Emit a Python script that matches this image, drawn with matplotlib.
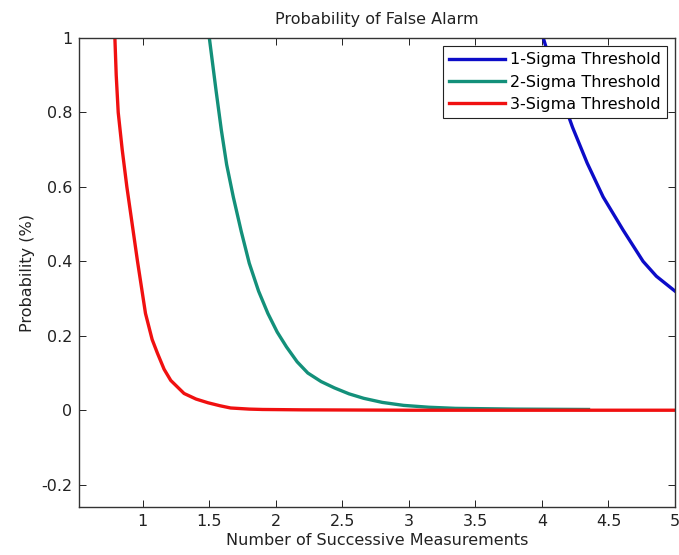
import matplotlib
matplotlib.use("Agg")
import matplotlib.pyplot as plt

# values
x_1sigma = [3.99, 4.01, 4.12, 4.23, 4.34, 4.46, 4.61, 4.76, 4.86, 5.0]
y_1sigma = [1.03, 1.0, 0.87, 0.76, 0.664, 0.573, 0.484, 0.40, 0.36, 0.32]

x_2sigma = [1.48, 1.50, 1.55, 1.59, 1.63, 1.68, 1.74, 1.80, 1.87, 1.94, 2.01,
            2.08, 2.16, 2.24, 2.34, 2.44, 2.55, 2.66, 2.80, 2.96, 3.15, 3.35,
            3.8, 4.35]
y_2sigma = [1.05, 1.0, 0.86, 0.753, 0.66, 0.573, 0.48, 0.395, 0.32, 0.26, 0.21,
            0.17, 0.13, 0.10, 0.077, 0.06, 0.044, 0.032, 0.021, 0.013, 0.008,
            0.005, 0.003, 0.002]

x_3sigma = [0.775, 0.79, 0.80, 0.815, 0.845, 0.88, 0.92, 0.96, 1.02, 1.07, 1.11,
            1.16, 1.21, 1.31, 1.40, 1.49, 1.58, 1.66, 1.80, 1.90, 2.20, 3.0,
            4.0, 5.0]
y_3sigma = [1.05, 1.0, 0.9, 0.8, 0.7, 0.6, 0.5, 0.4, 0.26, 0.19, 0.153,
            0.11, 0.08, 0.045, 0.03, 0.02, 0.012, 0.006, 0.003, 0.002, 0.001,
            0.0, 0.0, 0.0]

labels = ["1-Sigma Threshold", "2-Sigma Threshold", "3-Sigma Threshold"]
colors = ["#0c0cc8", "#13907a", "#f01010"]

x_ticks = [1, 1.5, 2, 2.5, 3, 3.5, 4, 4.5, 5]
x_ticklabels = ["1", "1.5", "2", "2.5", "3", "3.5", "4", "4.5", "5"]
y_ticks = [-0.2, 0, 0.2, 0.4, 0.6, 0.8, 1]
y_ticklabels = ["-0.2", "0", "0.2", "0.4", "0.6", "0.8", "1"]

plt.rcParams['font.family'] = ['DejaVu Sans']
plt.rcParams['font.size'] = 11.5

fig = plt.figure(figsize=(6.79, 5.55), dpi=100)
ax = fig.add_axes([0.1163, 0.0865, 0.8778, 0.845])

series = [(x_1sigma, y_1sigma), (x_2sigma, y_2sigma), (x_3sigma, y_3sigma)]
for (xs, ys), lab, col in zip(series, labels, colors):
    ax.plot(xs, ys, color=col, linewidth=2.4, label=lab)

ax.set_xlim(0.52, 5)
ax.set_ylim(-0.26, 1)
ax.set_xticks(x_ticks)
ax.set_xticklabels(x_ticklabels)
ax.set_yticks(y_ticks)
ax.set_yticklabels(y_ticklabels)

ax.tick_params(direction='in', length=5, width=0.7, top=True, right=True,
               colors='#222222', labelcolor='#222222', labelsize=11.5, pad=5)
for sp in ax.spines.values():
    sp.set_color('#333333')
    sp.set_linewidth(1.0)

ax.set_title("Probability of False Alarm", fontsize=11.5, color='#222222', pad=10)
ax.set_xlabel("Number of Successive Measurements", fontsize=11.5, color='#222222', labelpad=3)
ax.set_ylabel("Probability (%)", fontsize=11.5, color='#222222', labelpad=4)

leg = ax.legend(loc='upper right', fancybox=False, framealpha=1, edgecolor='#222222',
                handlelength=3.5, handletextpad=0.3, borderaxespad=0.5,
                labelspacing=0.45, borderpad=0.4, fontsize=11.5)
leg.get_frame().set_linewidth(0.8)

fig.savefig("out.png", dpi=100)
